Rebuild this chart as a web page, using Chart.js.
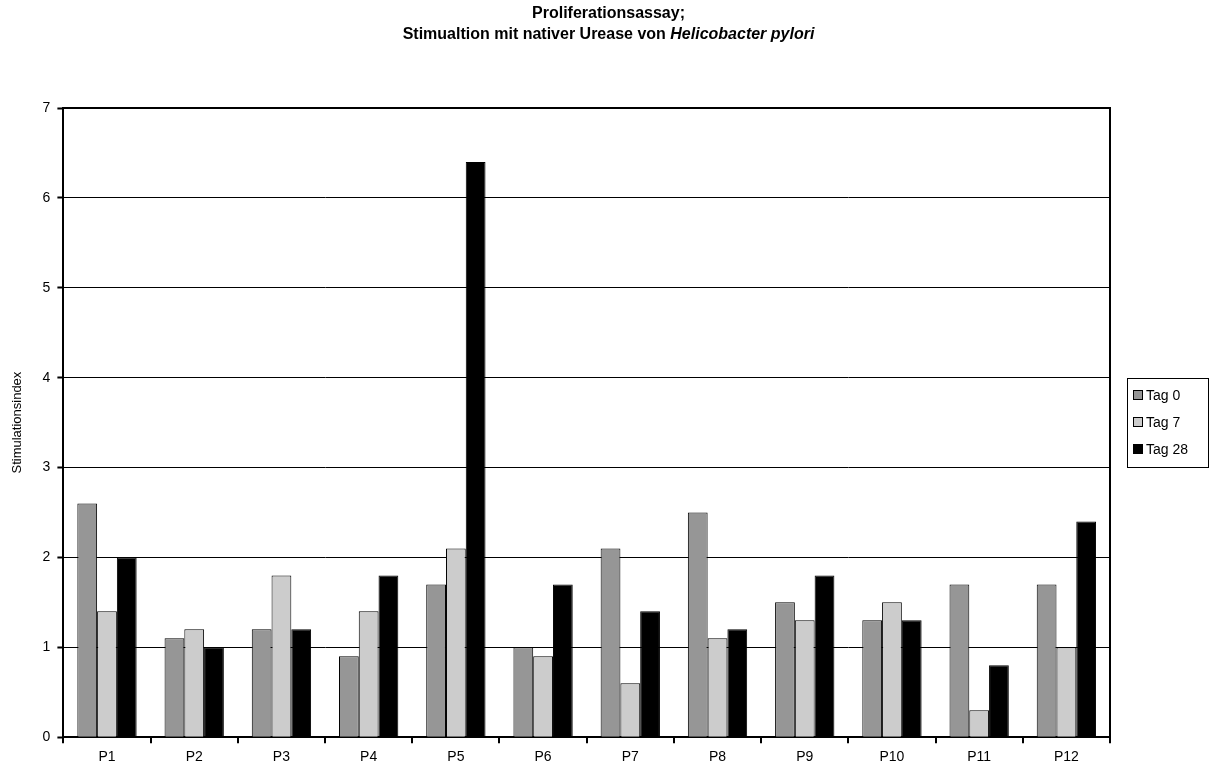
<!DOCTYPE html>
<html>
<head>
<meta charset="utf-8">
<script src="https://cdn.jsdelivr.net/npm/chart.js@4/dist/chart.umd.min.js"></script>
<style>
  html, body { margin: 0; padding: 0; background: #fff; }
  canvas { display: block; }
</style>
</head>
<body>
<canvas id="chart" width="1217" height="776"></canvas>
<script>
const categories = ['P1', 'P2', 'P3', 'P4', 'P5', 'P6', 'P7', 'P8', 'P9', 'P10', 'P11', 'P12'];
const tag0 = [2.6, 1.1, 1.2, 0.9, 1.7, 1.0, 2.1, 2.5, 1.5, 1.3, 1.7, 1.7];
const tag7 = [1.4, 1.2, 1.8, 1.4, 2.1, 0.9, 0.6, 1.1, 1.3, 1.5, 0.3, 1.0];
const tag28 = [2.0, 1.0, 1.2, 1.8, 6.4, 1.7, 1.4, 1.2, 1.8, 1.3, 0.8, 2.4];
const seriesNames = ['Tag 0', 'Tag 7', 'Tag 28'];
const seriesColors = ['#969696', '#cccccc', '#000000'];

const FONT = 'Arial, "Liberation Sans", sans-serif';

// Titel mit kursivem Teil + Rahmen um Plotfläche + Legende
const excelLook = {
    id: 'excelLook',
    afterDraw(chart) {
        const ctx = chart.ctx;
        const a = chart.chartArea;
        ctx.save();

        // Rahmen der Plotfläche
        ctx.strokeStyle = '#000';
        ctx.lineWidth = 2;
        ctx.beginPath();
        ctx.moveTo(a.left, a.top);
        ctx.lineTo(a.right, a.top);
        ctx.lineTo(a.right, a.bottom);
        ctx.stroke();

        // Titel
        const cx = chart.width / 2;
        ctx.fillStyle = '#000';
        ctx.textBaseline = 'middle';
        ctx.textAlign = 'center';
        ctx.font = 'bold 16px ' + FONT;
        ctx.fillText('Proliferationsassay;', cx, 14);
        const p1 = 'Stimualtion mit nativer Urease von ';
        const p2 = 'Helicobacter pylori';
        ctx.font = 'bold 16px ' + FONT;
        const w1 = ctx.measureText(p1).width;
        ctx.font = 'italic bold 16px ' + FONT;
        const w2 = ctx.measureText(p2).width;
        let x = cx - (w1 + w2) / 2;
        ctx.textAlign = 'left';
        ctx.font = 'bold 16px ' + FONT;
        ctx.fillText(p1, x, 35);
        ctx.font = 'italic bold 16px ' + FONT;
        ctx.fillText(p2, x + w1, 35);

        // Legende
        const lx = 1127, ly = 378, lw = 81, lh = 89;
        ctx.fillStyle = '#fff';
        ctx.fillRect(lx, ly, lw, lh);
        ctx.strokeStyle = '#000';
        ctx.lineWidth = 1;
        ctx.strokeRect(lx + 0.5, ly + 0.5, lw, lh);
        ctx.font = '14px ' + FONT;
        ctx.textAlign = 'left';
        seriesNames.forEach((name, i) => {
            const y = ly + 17 + i * 27;
            ctx.fillStyle = seriesColors[i];
            ctx.fillRect(lx + 6, y - 5, 10, 10);
            ctx.strokeStyle = '#000';
            ctx.strokeRect(lx + 6.5, y - 4.5, 9, 9);
            ctx.fillStyle = '#000';
            ctx.fillText(name, lx + 19, y + 1);
        });
        ctx.restore();
    }
};

const ctx = document.getElementById('chart').getContext('2d');
new Chart(ctx, {
    type: 'bar',
    data: {
        labels: categories,
        datasets: [tag0, tag7, tag28].map((d, i) => ({
            label: seriesNames[i],
            data: d,
            backgroundColor: seriesColors[i],
            borderColor: '#000',
            borderWidth: 1,
            categoryPercentage: 0.68,
            barPercentage: 1
        }))
    },
    options: {
        responsive: false,
        animation: false,
        layout: { padding: { top: 108, right: 107, left: 10, bottom: 4 } },
        plugins: {
            legend: { display: false },
            title: { display: false },
            tooltip: { enabled: false }
        },
        scales: {
            x: {
                offset: true,
                grid: {
                    offset: true,
                    drawOnChartArea: false,
                    color: '#000',
                    lineWidth: 2,
                    tickLength: 6
                },
                border: { color: '#000', width: 2 },
                ticks: { color: '#000', font: { family: FONT, size: 14 }, padding: 6 }
            },
            y: {
                min: 0,
                max: 7,
                grid: {
                    color: '#000',
                    lineWidth: 1,
                    tickLength: 6,
                    tickColor: '#000',
                    tickWidth: 2
                },
                border: { color: '#000', width: 2 },
                ticks: { stepSize: 1, color: '#000', font: { family: FONT, size: 14 }, padding: 7 },
                title: {
                    display: true,
                    text: 'Stimulationsindex',
                    color: '#000',
                    font: { family: FONT, size: 13 },
                    padding: { top: 0, bottom: 10 }
                }
            }
        }
    },
    plugins: [excelLook]
});
</script>
</body>
</html>
